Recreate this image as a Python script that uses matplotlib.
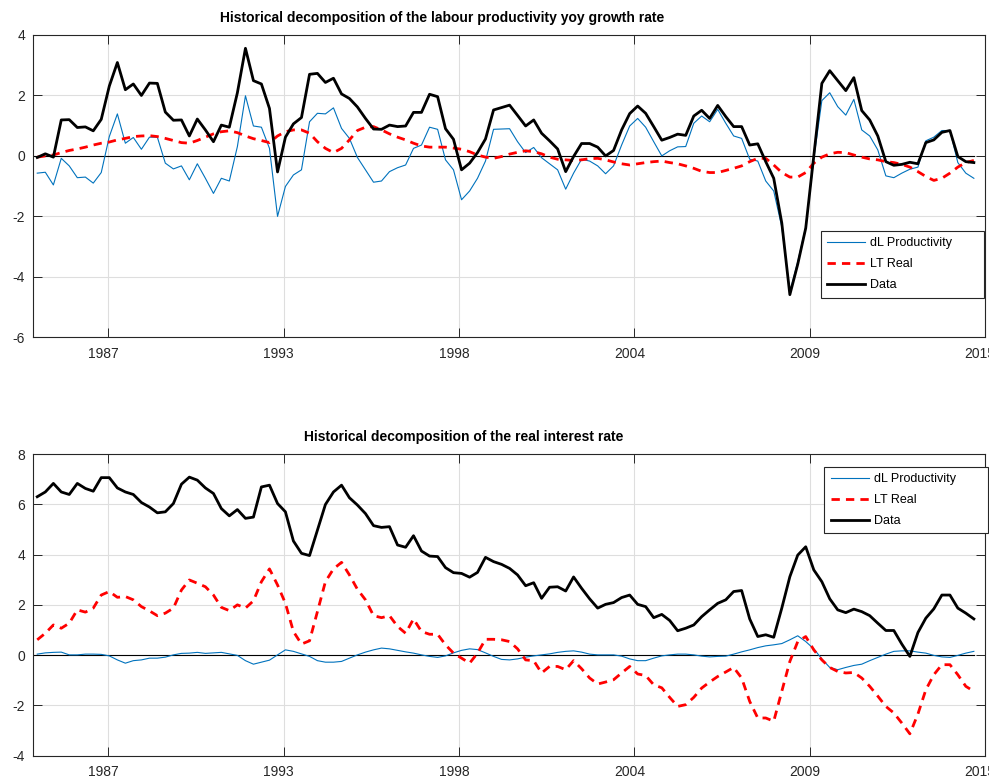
import numpy as np
import pandas as pd
import matplotlib
matplotlib.use("Agg")
import matplotlib.pyplot as plt
from matplotlib.transforms import ScaledTranslation

plt.rcParams['font.family'] = ['Liberation Sans', 'DejaVu Sans']

# ---------------- data ----------------
start_date = '1985-07-01'
n_quarters = 118

tick_datenums = [726000, 728000, 730000, 732000, 734000, 736000]
tick_labels = ['1987', '1993', '1998', '2004', '2009', '2015']

series_names = ['dL Productivity', 'LT Real', 'Data']

prod_dl = [-0.57, -0.54, -0.96, -0.08, -0.33, -0.72, -0.70, -0.90, -0.55, 0.64,
           1.39, 0.42, 0.61, 0.22, 0.62, 0.62, -0.24, -0.43, -0.33, -0.79,
           -0.26, -0.74, -1.24, -0.74, -0.83, 0.31, 1.99, 0.99, 0.95, 0.25,
           -2.00, -1.01, -0.63, -0.46, 1.13, 1.41, 1.39, 1.59, 0.91, 0.58,
           -0.05, -0.46, -0.87, -0.83, -0.52, -0.39, -0.30, 0.25, 0.36, 0.95,
           0.88, -0.13, -0.46, -1.45, -1.16, -0.74, -0.17, 0.88, 0.89, 0.90,
           0.47, 0.11, 0.28, -0.06, -0.26, -0.46, -1.10, -0.57, -0.11, -0.17,
           -0.33, -0.59, -0.33, 0.36, 0.99, 1.24, 0.95, 0.47, 0.00, 0.17,
           0.30, 0.31, 1.08, 1.32, 1.13, 1.54, 1.08, 0.66, 0.58, -0.11,
           -0.17, -0.83, -1.16, -2.35, -4.50, -3.50, -2.35, -0.10, 1.83, 2.09,
           1.63, 1.35, 1.87, 0.86, 0.66, 0.20, -0.66, -0.72, -0.57, -0.44,
           -0.37, 0.50, 0.62, 0.84, 0.84, -0.22, -0.57, -0.74]

prod_lt = [-0.04, 0.00, 0.03, 0.11, 0.18, 0.23, 0.29, 0.36, 0.42, 0.46,
           0.53, 0.58, 0.64, 0.66, 0.67, 0.64, 0.58, 0.51, 0.44, 0.42,
           0.51, 0.62, 0.73, 0.80, 0.83, 0.77, 0.66, 0.57, 0.51, 0.44,
           0.66, 0.80, 0.86, 0.86, 0.75, 0.47, 0.25, 0.11, 0.25, 0.53,
           0.84, 0.95, 0.97, 0.86, 0.73, 0.62, 0.53, 0.42, 0.33, 0.29,
           0.29, 0.29, 0.26, 0.22, 0.14, 0.03, -0.04, -0.08, -0.02, 0.06,
           0.12, 0.17, 0.14, 0.07, -0.04, -0.11, -0.13, -0.15, -0.13, -0.09,
           -0.08, -0.13, -0.20, -0.26, -0.30, -0.26, -0.22, -0.19, -0.17, -0.22,
           -0.26, -0.33, -0.41, -0.51, -0.55, -0.55, -0.48, -0.41, -0.33, -0.19,
           -0.08, -0.08, -0.30, -0.55, -0.70, -0.70, -0.55, -0.24, -0.04, 0.07,
           0.12, 0.11, 0.03, -0.04, -0.10, -0.13, -0.19, -0.22, -0.28, -0.37,
           -0.52, -0.68, -0.81, -0.74, -0.57, -0.37, -0.22, -0.15]

prod_data = [-0.05, 0.07, -0.04, 1.19, 1.20, 0.94, 0.96, 0.83, 1.21, 2.31,
             3.09, 2.19, 2.38, 2.00, 2.41, 2.40, 1.45, 1.18, 1.19, 0.66,
             1.22, 0.86, 0.47, 1.02, 0.95, 2.09, 3.56, 2.49, 2.38, 1.57,
             -0.53, 0.62, 1.06, 1.27, 2.70, 2.73, 2.43, 2.57, 2.05, 1.90,
             1.62, 1.24, 0.89, 0.88, 1.02, 0.97, 0.99, 1.44, 1.44, 2.04,
             1.96, 0.90, 0.55, -0.46, -0.24, 0.11, 0.56, 1.52, 1.60, 1.68,
             1.34, 0.99, 1.19, 0.75, 0.50, 0.23, -0.52, -0.02, 0.41, 0.41,
             0.29, 0.00, 0.18, 0.86, 1.40, 1.65, 1.41, 0.97, 0.52, 0.61,
             0.72, 0.68, 1.32, 1.51, 1.24, 1.67, 1.30, 0.97, 0.97, 0.36,
             0.40, -0.19, -0.74, -2.22, -4.59, -3.58, -2.39, 0.00, 2.40, 2.82,
             2.49, 2.16, 2.59, 1.50, 1.19, 0.66, -0.19, -0.31, -0.28, -0.21,
             -0.26, 0.44, 0.53, 0.78, 0.84, -0.02, -0.19, -0.22]

rate_dl = [0.04, 0.09, 0.11, 0.12, 0.01, 0.01, 0.04, 0.04, 0.03, -0.03,
           -0.19, -0.32, -0.22, -0.19, -0.12, -0.12, -0.08, 0.01, 0.07, 0.08,
           0.11, 0.07, 0.09, 0.11, 0.05, -0.01, -0.22, -0.36, -0.28, -0.20,
           0.01, 0.21, 0.15, 0.05, -0.05, -0.22, -0.28, -0.28, -0.25, -0.12,
           0.01, 0.12, 0.21, 0.28, 0.25, 0.19, 0.13, 0.08, 0.01, -0.05,
           -0.09, -0.03, 0.09, 0.19, 0.25, 0.22, 0.09, -0.05, -0.17, -0.19,
           -0.15, -0.08, -0.03, 0.01, 0.05, 0.11, 0.15, 0.17, 0.12, 0.04,
           0.01, 0.01, 0.01, -0.04, -0.15, -0.22, -0.22, -0.12, -0.03, 0.01,
           0.04, 0.04, 0.01, -0.04, -0.07, -0.05, -0.04, 0.04, 0.13, 0.21,
           0.30, 0.37, 0.41, 0.46, 0.61, 0.77, 0.54, 0.25, -0.15, -0.49,
           -0.58, -0.49, -0.41, -0.36, -0.22, -0.09, 0.04, 0.15, 0.17, 0.17,
           0.12, 0.08, -0.01, -0.07, -0.09, -0.01, 0.08, 0.15]

rate_lt = [0.61, 0.87, 1.20, 1.07, 1.27, 1.80, 1.71, 1.87, 2.39, 2.53,
           2.30, 2.33, 2.20, 1.93, 1.76, 1.57, 1.67, 1.87, 2.59, 2.99,
           2.86, 2.72, 2.39, 1.90, 1.77, 2.00, 1.87, 2.16, 2.92, 3.43,
           2.79, 2.06, 0.94, 0.44, 0.57, 1.73, 2.92, 3.43, 3.69, 3.19,
           2.62, 2.20, 1.57, 1.49, 1.57, 1.14, 0.87, 1.44, 0.94, 0.83,
           0.83, 0.41, 0.08, -0.12, -0.32, 0.08, 0.63, 0.63, 0.61, 0.54,
           0.25, -0.19, -0.22, -0.71, -0.45, -0.45, -0.58, -0.22, -0.54, -0.91,
           -1.15, -1.07, -0.98, -0.71, -0.45, -0.75, -0.81, -1.18, -1.30, -1.68,
           -2.04, -1.97, -1.68, -1.31, -1.07, -0.85, -0.67, -0.49, -0.91, -1.84,
           -2.50, -2.50, -2.63, -1.44, -0.25, 0.54, 0.74, 0.21, -0.19, -0.49,
           -0.65, -0.71, -0.69, -0.91, -1.24, -1.63, -2.04, -2.30, -2.70, -3.13,
           -2.34, -1.38, -0.78, -0.38, -0.38, -0.78, -1.24, -1.44]

rate_data = [6.30, 6.49, 6.83, 6.49, 6.39, 6.83, 6.63, 6.52, 7.06, 7.06,
             6.65, 6.49, 6.39, 6.07, 5.89, 5.66, 5.70, 6.03, 6.80, 7.08,
             6.96, 6.65, 6.43, 5.83, 5.54, 5.79, 5.44, 5.49, 6.69, 6.76,
             6.03, 5.70, 4.54, 4.05, 3.96, 4.97, 5.99, 6.49, 6.76, 6.26,
             5.97, 5.63, 5.15, 5.08, 5.11, 4.38, 4.29, 4.75, 4.14, 3.94,
             3.92, 3.48, 3.28, 3.25, 3.10, 3.29, 3.89, 3.72, 3.61, 3.45,
             3.19, 2.76, 2.88, 2.26, 2.70, 2.72, 2.55, 3.11, 2.66, 2.24,
             1.87, 2.02, 2.09, 2.29, 2.39, 2.02, 1.93, 1.49, 1.62, 1.38,
             0.97, 1.07, 1.20, 1.53, 1.80, 2.06, 2.20, 2.53, 2.57, 1.44,
             0.74, 0.81, 0.71, 1.87, 3.12, 3.98, 4.31, 3.39, 2.92, 2.24,
             1.80, 1.69, 1.83, 1.73, 1.57, 1.27, 0.98, 0.98, 0.44, -0.05,
             0.90, 1.47, 1.84, 2.39, 2.39, 1.87, 1.67, 1.44]

titles = ['Historical decomposition of the labour productivity yoy growth rate',
          'Historical decomposition of the real interest rate']

# ---------------- figure ----------------
W, H = 989, 777
DPI = 100
fig = plt.figure(figsize=(W / DPI, H / DPI), dpi=DPI, facecolor='white')

# MATLAB datenum for each quarter
dates = pd.date_range(start_date, periods=n_quarters, freq='QS')
x = np.asarray((dates - pd.Timestamp('1970-01-01')).days, dtype=float) + 719529
xlim = (725144, 736000)

BLUE = '#0072BD'
DARK = '#262626'


def px_rect(l, t, r, b):
    return [l / W, 1 - b / H, (r - l) / W, (b - t) / H]


panels = [
    dict(rect=px_rect(33.3, 35.0, 985.0, 337.3), ylim=(-6, 4), yticks=np.arange(-6, 5, 2),
         d=(prod_dl, prod_lt, prod_data), title=titles[0], tpos=(220.0, 18),
         leg=(820.7, 231.0, 984.0, 301.7)),
    dict(rect=px_rect(33.3, 454.0, 985.0, 755.7), ylim=(-4, 8), yticks=np.arange(-4, 9, 2),
         d=(rate_dl, rate_lt, rate_data), title=titles[1], tpos=(304.0, 437),
         leg=(824.3, 466.7, 988.3, 537.7)),
]

for p in panels:
    ax = fig.add_axes(p['rect'])
    dl, lt, data = p['d']
    ax.plot([xlim[0], x[-1]], [0, 0], color='black', lw=0.8, zorder=2)
    h1, = ax.plot(x, dl, color=BLUE, lw=0.8, zorder=3, label=series_names[0])
    h2, = ax.plot(x, lt, color='red', lw=2.0, ls=(0, (3.0, 2.2)), zorder=4, label=series_names[1])
    h3, = ax.plot(x, data, color='black', lw=2.0, zorder=5, label=series_names[2])

    ax.set_xlim(*xlim)
    ax.set_ylim(*p['ylim'])
    ax.set_xticks(tick_datenums)
    ax.set_xticklabels(tick_labels)
    ax.set_yticks(p['yticks'])
    ax.set_yticklabels([str(int(v)) for v in p['yticks']])
    ax.grid(True, color='#dedede', lw=0.8)
    ax.set_axisbelow(True)
    ax.tick_params(direction='in', length=6.8, width=0.7, colors=DARK, labelsize=10,
                   top=True, right=True, labelcolor=DARK)
    ax.tick_params(axis='x', pad=7)
    ax.tick_params(axis='y', pad=6)
    for s in ax.spines.values():
        s.set_color(DARK)
        s.set_linewidth(0.8)
    for lab in ax.get_xticklabels():
        lab.set_transform(lab.get_transform() + ScaledTranslation(-5 / DPI, 0, fig.dpi_scale_trans))

    tx, ty = p['tpos']
    fig.text(tx / W, 1 - ty / H, p['title'], ha='left', va='center',
             fontsize=10, fontweight='bold', color='black')

    l, t, r, b = p['leg']
    leg = ax.legend(handles=[h1, h2, h3], loc='upper left',
                    bbox_to_anchor=(l / W, 1 - b / H, (r - l) / W, (b - t) / H),
                    bbox_transform=fig.transFigure, mode='expand', borderaxespad=0,
                    fontsize=9, frameon=True, fancybox=False, framealpha=1,
                    edgecolor=DARK, handlelength=3.05, handletextpad=0.4,
                    labelspacing=0.72, borderpad=0.5)
    leg.get_frame().set_linewidth(0.8)
    for txt in leg.get_texts():
        txt.set_color('black')

fig.savefig('out.png', dpi=DPI, facecolor='white')
